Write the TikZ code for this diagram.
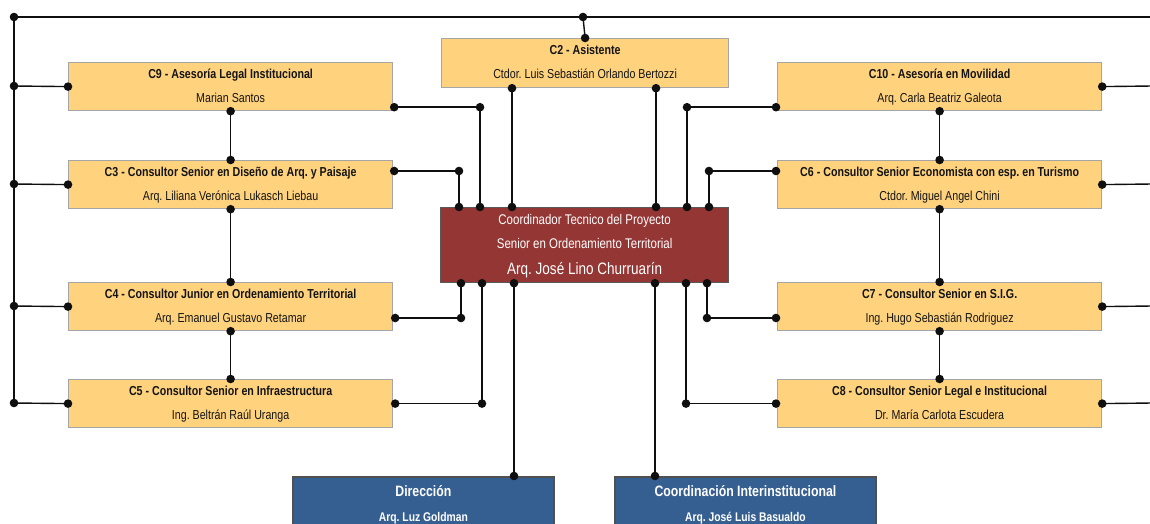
\documentclass[tikz,border=0pt]{standalone}
\usepackage{fontspec}
\setmainfont{Liberation Sans}[FakeStretch=0.82]
\usetikzlibrary{calc}
\definecolor{ybox}{RGB}{255,210,125}
\definecolor{yborder}{RGB}{165,165,165}
\definecolor{rbox}{RGB}{148,54,52}
\definecolor{bbox}{RGB}{54,95,145}
\definecolor{bborder}{RGB}{80,80,80}
\definecolor{ln}{RGB}{15,15,15}
\definecolor{tx}{RGB}{20,20,20}
\newcommand\dotat[1]{\fill[ln] #1 circle (4.3pt);}
\frenchspacing
\begin{document}
\frenchspacing
\begin{tikzpicture}[x=1pt,y=-1pt,
  ybx/.style={draw=yborder, fill=ybox, line width=1.2pt, minimum width=324pt, minimum height=48pt, anchor=north west, inner sep=0pt},
  rbx/.style={draw=gray!70!black, fill=rbox, line width=1.2pt, minimum width=288pt, minimum height=75pt, anchor=north west, inner sep=0pt},
  bbx/.style={draw=bborder, fill=bbox, line width=1.8pt, minimum width=261pt, minimum height=70pt, anchor=north west, inner sep=0pt},
  ttl/.style={anchor=base, inner sep=0pt, text=tx, font=\fontsize{13}{13}\selectfont\bfseries},
  nam/.style={anchor=base, inner sep=0pt, text=tx, font=\fontsize{13}{13}\selectfont},
  wt/.style={anchor=base, inner sep=0pt, text=white, font=\fontsize{14}{14}\selectfont},
  wtb/.style={anchor=base, inner sep=0pt, text=white, font=\fontsize{16.5}{16.5}\selectfont},
  bt/.style={anchor=base, inner sep=0pt, text=white, font=\fontsize{15}{15}\selectfont\bfseries},
  bn/.style={anchor=base, inner sep=0pt, text=white, font=\fontsize{12.6}{12.6}\selectfont\bfseries},
  cn/.style={draw=ln, line width=1.4pt}
]
\useasboundingbox (0,0) rectangle (1150,524);
\clip (0,0) rectangle (1150,524);

% boxes
\node[ybx] (c9) at (68,62) {};
\node[ybx] (c3) at (68,160) {};
\node[ybx] (c4) at (68,282) {};
\node[ybx] (c5) at (68,379) {};
\node[ybx, minimum width=287pt, minimum height=49pt] (c2) at (441,38) {};
\node[ybx] (c10) at (777,62) {};
\node[ybx] (c6) at (777,160) {};
\node[ybx] (c7) at (777,282) {};
\node[ybx] (c8) at (777,379) {};
\node[rbx] (co) at (440,207) {};
\node[bbx] (di) at (292,476) {};
\node[bbx] (ci) at (614,476) {};

% texts
\node[ttl] (t9) at ($(c9.north)+(0,16.5)$) {C9 - Asesoría Legal Institucional};
\node[nam] (n9) at ($(c9.north)+(0,40.5)$) {Marian Santos};
\node[ttl] (t3) at ($(c3.north)+(0,16.5)$) {C3 - Consultor Senior en Diseño de Arq. y Paisaje};
\node[nam] (n3) at ($(c3.north)+(0,40.5)$) {Arq. Liliana Verónica Lukasch Liebau};
\node[ttl] (t4) at ($(c4.north)+(0,16.5)$) {C4 - Consultor Junior en Ordenamiento Territorial};
\node[nam] (n4) at ($(c4.north)+(0,40.5)$) {Arq. Emanuel Gustavo Retamar};
\node[ttl] (t5) at ($(c5.north)+(0,16.5)$) {C5 - Consultor Senior en Infraestructura};
\node[nam] (n5) at ($(c5.north)+(0,40.5)$) {Ing. Beltrán Raúl Uranga};
\node[ttl] (t2) at ($(c2.north)+(0,16.5)$) {C2 - Asistente};
\node[nam] (n2) at ($(c2.north)+(0,40.5)$) {Ctdor. Luis Sebastián Orlando Bertozzi};
\node[ttl] (t10) at ($(c10.north)+(0,16.5)$) {C10 - Asesoría en Movilidad};
\node[nam] (n10) at ($(c10.north)+(0,40.5)$) {Arq. Carla Beatriz Galeota};
\node[ttl] (t6) at ($(c6.north)+(0,16.5)$) {C6 - Consultor Senior Economista con esp. en Turismo};
\node[nam] (n6) at ($(c6.north)+(0,40.5)$) {Ctdor. Miguel Angel Chini};
\node[ttl] (t7) at ($(c7.north)+(0,16.5)$) {C7 - Consultor Senior en S.I.G.};
\node[nam] (n7) at ($(c7.north)+(0,40.5)$) {Ing. Hugo Sebastián Rodriguez};
\node[ttl] (t8) at ($(c8.north)+(0,16.5)$) {C8 - Consultor Senior Legal e Institucional};
\node[nam] (n8) at ($(c8.north)+(0,40.5)$) {Dr. María Carlota Escudera};
\node[wt] (tc1) at ($(co.north)+(0,17.5)$) {Coordinador Tecnico del Proyecto};
\node[wt] (tc2) at ($(co.north)+(0,41.5)$) {Senior en Ordenamiento Territorial};
\node[wtb] (tc3) at ($(co.north)+(0,67.5)$) {Arq. José Lino Churruarín};
\node[bt] (td1) at ($(di.north)+(0,20)$) {Dirección};
\node[bn] (td2) at ($(di.north)+(0,45)$) {Arq. Luz Goldman};
\node[bt] (ti1) at ($(ci.north)+(0,20)$) {Coordinación Interinstitucional};
\node[bn] (ti2) at ($(ci.north)+(0,45)$) {Arq. José Luis Basualdo};

% trunk coordinates
\coordinate (L0) at (14,17);
\coordinate (L1) at (14,86);
\coordinate (L2) at (14,184);
\coordinate (L3) at (14,306);
\coordinate (L4) at (14,403);
\coordinate (T) at (583,17);
\coordinate (TR) at (1152,17);
\coordinate (R1) at (1152,86);
\coordinate (R2) at (1152,184);
\coordinate (R3) at (1152,306);
\coordinate (R4) at (1152,403);

% attachment points
\coordinate (c9r) at ($(c9.south east)+(1,-4)$);
\coordinate (c3r) at ($(c3.north east)+(1,11)$);
\coordinate (c4r) at ($(c4.north east)+(2,36)$);
\coordinate (c5r) at ($(c5.east)+(2,0)$);
\coordinate (c10l) at ($(c10.south west)+(-1,-4)$);
\coordinate (c6l) at ($(c6.north west)+(-1,11)$);
\coordinate (c7l) at ($(c7.north west)+(-1,36)$);
\coordinate (c8l) at ($(c8.west)+(-1,0)$);
\coordinate (c2a) at (c2.south -| 512,0);
\coordinate (c2b) at (c2.south -| 656,0);
\coordinate (coT1) at (co.north -| 459,0);
\coordinate (coT2) at (co.north -| 480,0);
\coordinate (coT3) at (co.north -| 512,0);
\coordinate (coT4) at (co.north -| 656,0);
\coordinate (coT5) at (co.north -| 687,0);
\coordinate (coT6) at (co.north -| 709,0);
\coordinate (coB1) at (co.south -| 461,0);
\coordinate (coB2) at (co.south -| 482,0);
\coordinate (coB3) at (co.south -| 514,0);
\coordinate (coB4) at (co.south -| 655,0);
\coordinate (coB5) at (co.south -| 686,0);
\coordinate (coB6) at (co.south -| 707,0);
\coordinate (diT) at (di.north -| coB3);
\coordinate (ciT) at (ci.north -| coB4);
\coordinate (k9) at (c9r -| coT2);
\coordinate (k3) at (c3r -| coT1);
\coordinate (k10) at (c10l -| coT5);
\coordinate (k6) at (c6l -| coT6);
\coordinate (k4) at (c4r -| coB1);
\coordinate (k5) at (c5r -| coB2);
\coordinate (k8) at (c8l -| coB5);
\coordinate (k7) at (c7l -| coB6);

% connectors
\draw[cn] (L0) -- (TR);
\draw[cn] (L0) -- (L4);
\draw[cn] (L1) -- (c9.west);
\draw[cn] (L2) -- (c3.west);
\draw[cn] (L3) -- (c4.west);
\draw[cn] (L4) -- (c5.west);
\draw[cn] (T) -- (c2.north);
\draw[cn] (c10.east) -- (R1);
\draw[cn] (c6.east) -- (R2);
\draw[cn] (c7.east) -- (R3);
\draw[cn] (c8.east) -- (R4);
\draw[cn] (c9.south) -- (c3.north);
\draw[cn] (c3.south) -- (c4.north);
\draw[cn] (c4.south) -- (c5.north);
\draw[cn] (c10.south) -- (c6.north);
\draw[cn] (c6.south) -- (c7.north);
\draw[cn] (c7.south) -- (c8.north);
\draw[cn] (c9r) -- (k9) -- (coT2);
\draw[cn] (c3r) -- (k3) -- (coT1);
\draw[cn] (c2a) -- (coT3);
\draw[cn] (c2b) -- (coT4);
\draw[cn] (c10l) -- (k10) -- (coT5);
\draw[cn] (c6l) -- (k6) -- (coT6);
\draw[cn] (coB1) -- (k4) -- (c4r);
\draw[cn] (coB2) -- (k5) -- (c5r);
\draw[cn] (coB3) -- (diT);
\draw[cn] (coB4) -- (ciT);
\draw[cn] (coB5) -- (k8) -- (c8l);
\draw[cn] (coB6) -- (k7) -- (c7l);

% dots
\foreach \p in {L0,L1,L2,L3,L4,T,c2.north,c9.west,c3.west,c4.west,c5.west,
  c10.east,c6.east,c7.east,c8.east,c9.south,c3.north,c3.south,c4.north,c4.south,c5.north,
  c10.south,c6.north,c6.south,c7.north,c7.south,c8.north,
  c9r,c3r,c4r,c5r,c10l,c6l,c7l,c8l,c2a,c2b,
  coT1,coT2,coT3,coT4,coT5,coT6,coB1,coB2,coB3,coB4,coB5,coB6,diT,ciT,
  k9,k3,k10,k6,k4,k5,k8,k7}{\dotat{(\p)}}
\end{tikzpicture}
\end{document}
